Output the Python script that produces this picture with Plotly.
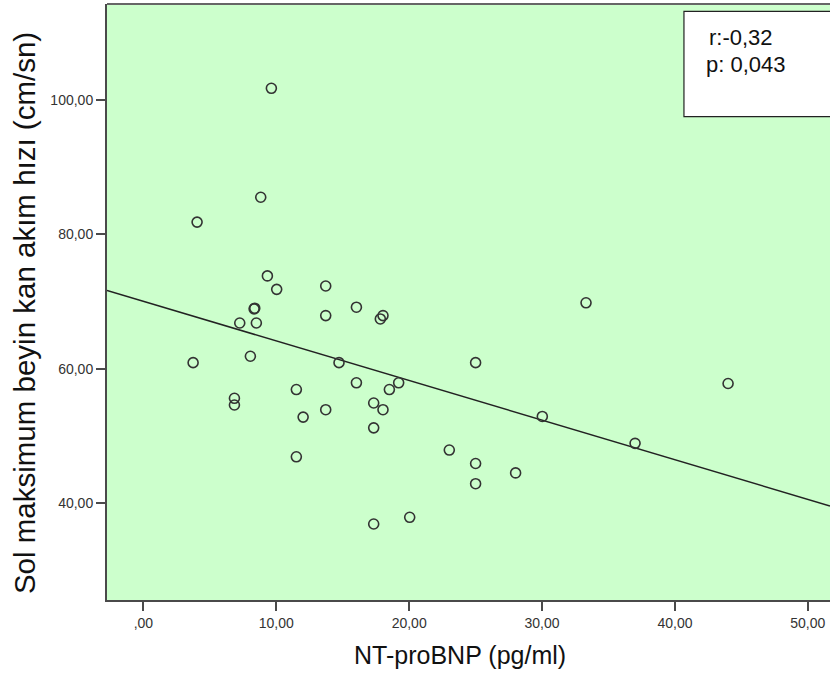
import numpy as np
import plotly.graph_objects as go

# Data
nt_probnp = [9.63, 8.83, 4.04, 9.33, 10.03, 13.72, 8.33, 8.38, 7.25, 8.50,
             13.72, 16.03, 18.03, 17.83,
             3.74, 8.05, 6.85, 6.85, 14.72, 11.51, 16.03, 19.21, 18.51, 17.33,
             18.03, 13.72, 12.02, 17.33, 11.51, 17.33, 20.04,
             33.31, 25.0, 44.0, 30.02, 37.0, 23.02, 25.0, 28.01, 25.0]
sol_hiz = [101.7, 85.5, 81.8, 73.8, 71.8, 72.3, 68.9, 69.0, 66.8, 66.8,
           67.9, 69.15, 67.9, 67.4,
           60.9, 61.85, 55.6, 54.6, 60.9, 56.9, 57.9, 57.9, 56.9, 54.9,
           53.9, 53.9, 52.8, 51.2, 46.9, 36.9, 37.9,
           69.8, 60.9, 57.8, 52.9, 48.9, 47.9, 45.9, 44.5, 42.9]

x_ticks = [0, 10, 20, 30, 40, 50]
x_ticktext = [",00", "10,00", "20,00", "30,00", "40,00", "50,00"]
y_ticks = [40, 60, 80, 100]
y_ticktext = ["40,00", "60,00", "80,00", "100,00"]
x_range = [-2.74, 51.67]
y_range = [25.6, 114.24]

stat_lines = ["r:-0,32", "p: 0,043"]

slope, intercept = np.polyfit(nt_probnp, sol_hiz, 1)
fit_x = np.array(x_range)
fit_y = intercept + slope * fit_x

axis_col = "#4a4a4a"
fig = go.Figure()
fig.add_trace(go.Scatter(x=fit_x, y=fit_y, mode="lines",
                         line=dict(color="#222222", width=1.5),
                         hoverinfo="skip", showlegend=False))
fig.add_trace(go.Scatter(x=nt_probnp, y=sol_hiz, mode="markers",
                         marker=dict(symbol="circle-open", size=10,
                                     color="#333333", line=dict(width=1.6)),
                         showlegend=False))

fig.update_layout(
    width=830, height=676,
    margin=dict(l=107, r=0, t=4, b=76),
    paper_bgcolor="white", plot_bgcolor="#ccffcc",
    font=dict(family="Liberation Sans, Arial, sans-serif", color="#222222"),
    xaxis=dict(range=x_range, tickvals=x_ticks, ticktext=x_ticktext,
               showgrid=False, zeroline=False, showline=True,
               linecolor=axis_col, linewidth=2, ticks="outside",
               ticklen=9, tickwidth=2, tickcolor=axis_col,
               tickfont=dict(size=14, color="#333333")),
    yaxis=dict(range=y_range, tickvals=y_ticks, ticktext=y_ticktext,
               showgrid=False, zeroline=False, showline=True,
               linecolor=axis_col, linewidth=2, ticks="outside",
               ticklen=9, tickwidth=2, tickcolor=axis_col,
               tickfont=dict(size=14, color="#333333")),
    shapes=[
        dict(type="line", xref="paper", yref="paper", x0=0, x1=1, y0=1, y1=1,
             line=dict(color="#666666", width=2)),
        dict(type="rect", xref="paper", yref="paper", x0=0.798, x1=1.01,
             y0=0.811, y1=0.9876, fillcolor="white",
             line=dict(color="#222222", width=1.2)),
    ],
    annotations=[
        dict(text=stat_lines[0], xref="paper", yref="paper", x=0.830, y=0.943,
             xanchor="left", yanchor="middle", showarrow=False,
             font=dict(size=22, color="#111111")),
        dict(text=stat_lines[1], xref="paper", yref="paper", x=0.8255, y=0.898,
             xanchor="left", yanchor="middle", showarrow=False,
             font=dict(size=22, color="#111111")),
        dict(text="NT-proBNP (pg/ml)", xref="paper", yref="paper",
             x=0.488, y=-0.0923, xanchor="center", yanchor="middle",
             showarrow=False, font=dict(size=25, color="#111111")),
        dict(text="Sol maksimum beyin kan akım hızı (cm/sn)", xref="paper",
             yref="paper", x=-0.1143, y=0.482, xanchor="center",
             yanchor="middle", textangle=-90, showarrow=False,
             font=dict(size=29.5, color="#111111")),
    ],
)

fig.write_html("out.html")
